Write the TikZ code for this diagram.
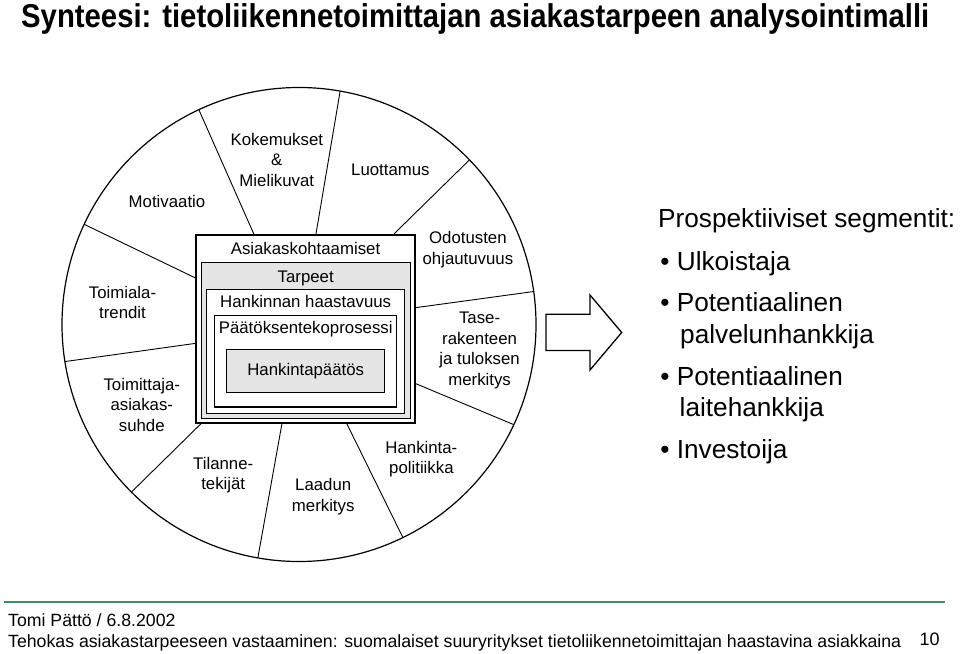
\documentclass[tikz,border=0pt]{standalone}
\usepackage{fontspec}
\setmainfont{Liberation Sans}
\usepackage{graphicx}
\usepackage{xcolor}
\usetikzlibrary{calc,positioning}
\definecolor{rulegreen}{RGB}{62,142,104}

\begin{document}
\begin{tikzpicture}[
  x=1pt, y=-1pt,
  lbl/.style={align=center, inner sep=0pt, font=\fontsize{16.8}{20.5}\selectfont},
  nest/.style={draw, line width=1.1pt, inner sep=0pt, outer sep=0pt, fill=white, font=\fontsize{16.8}{20.5}\selectfont},
  shade/.style={nest, fill=black!10},
  spoke/.style={line width=0.9pt},
  seg/.style={anchor=base west, inner sep=0pt, font=\fontsize{26.2}{31}\selectfont},
  foot/.style={anchor=base west, inner sep=0pt, font=\fontsize{17.7}{21}\selectfont}
]
  \fill[white] (0,0) rectangle (960,653);
  \useasboundingbox (0,0) rectangle (960,653);

  \node[anchor=base west, inner sep=0pt, font=\fontsize{33}{38}\selectfont\bfseries] (title) at (21,27.5)
    {\scalebox{0.888}[1]{Synteesi: tietoliikennetoimittajan asiakastarpeen analysointimalli}};

  % wheel with nested boxes
  \node[draw, circle, line width=1.2pt, minimum size=474pt, inner sep=0pt, outer sep=0pt] (wheel) at (299,324.5) {};

  \node[nest, minimum width=219pt, minimum height=188pt] (outer) at (305.5,329) {};
  \node[shade, minimum width=208.7pt, minimum height=156pt] (tarpeet) at (305.7,340.7) {};
  \node[nest, minimum width=198pt, minimum height=124.3pt] (hank) at (305.7,351.2) {};
  \node[nest, minimum width=182pt, minimum height=91.3pt] (paat) at (305.7,361.3) {};
  \node[shade, minimum width=158pt, minimum height=43.3pt] (hp) at (305.7,370.7) {Hankintapäätös};

  \node[lbl, below=7.5pt of outer.north] (asiakas) {Asiakaskohtaamiset};
  \node[lbl, below=8pt of tarpeet.north] (tarpeetlbl) {Tarpeet};
  \node[lbl, below=6pt of hank.north] (hanklbl) {Hankinnan haastavuus};
  \node[lbl, below=5.5pt of paat.north] (paatlbl) {Päätöksentekoprosessi};

  \foreach \a/\f in {115.9/0.266, 80.3/0.547, 44.1/0.899}
    \draw[spoke] (wheel.\a) -- ($(outer.north west)!\f!(outer.north east)$);
  \foreach \a/\f in {8.5/0.387, -25.9/0.789}
    \draw[spoke] (wheel.\a) -- ($(outer.north east)!\f!(outer.south east)$);
  \foreach \a/\f in {-64.3/0.687, 260.4/0.393, 225/0.026}
    \draw[spoke] (wheel.\a) -- ($(outer.south west)!\f!(outer.south east)$);
  \foreach \a/\f in {189.7/0.576, 155.2/0.230}
    \draw[spoke] (wheel.\a) -- ($(outer.north west)!\f!(outer.south west)$);

  \node[lbl] (motiv) at (167,201.7) {Motivaatio};
  \node[lbl] (kokem) at (276.8,159.7) {Kokemukset\\\&\\Mielikuvat};
  \node[lbl] (luott) at (390.4,170) {Luottamus};
  \node[lbl] (odot) at (467.9,249.7) {Odotusten\\ohjautuvuus};
  \node[lbl] (tase) at (479.6,350.3) {Tase-\\rakenteen\\ja tuloksen\\merkitys};
  \node[lbl] (hpol) at (421.4,459) {Hankinta-\\politiikka};
  \node[lbl] (laatu) at (323.2,496.7) {Laadun\\merkitys};
  \node[lbl] (tilan) at (223.2,475) {Tilanne-\\tekijät};
  \node[lbl] (toimit) at (141.8,404.8) {Toimittaja-\\asiakas-\\suhde};
  \node[lbl] (toimial) at (122.5,302.5) {Toimiala-\\trendit};

  % result arrow
  \draw[line width=1.3pt, line join=miter] (546,314.3) -- (590,314.3) -- (590,295) -- (621.7,332.5)
    -- (590,370) -- (590,350.5) -- (546,350.5) -- cycle;

  % segments
  \node[seg] (segs) at (658,227.7) {Prospektiiviset segmentit:};
  \node[seg] (ulk) at (660.2,270) {\textbullet\ Ulkoistaja};
  \node[seg] (pot1) at (660.2,311.7) {\textbullet\ Potentiaalinen};
  \node[seg] (palv) at (680,343.3) {palvelunhankkija};
  \node[seg] (pot2) at (660.2,385) {\textbullet\ Potentiaalinen};
  \node[seg] (lait) at (679.5,416.7) {laitehankkija};
  \node[seg] (inv) at (660.2,458.3) {\textbullet\ Investoija};

  % footer
  \draw[rulegreen, line width=2pt] (4,602.3) -- (945,602.3);
  \node[foot] (author) at (8,626.7) {Tomi Pättö / 6.8.2002};
  \node[foot] (source) at (8,647.5) {Tehokas asiakastarpeeseen vastaaminen: suomalaiset suuryritykset tietoliikennetoimittajan haastavina asiakkaina};
  \node[anchor=base west, inner sep=0pt, font=\fontsize{18}{20}\selectfont] (page) at (919.5,645) {10};
\end{tikzpicture}
\end{document}
